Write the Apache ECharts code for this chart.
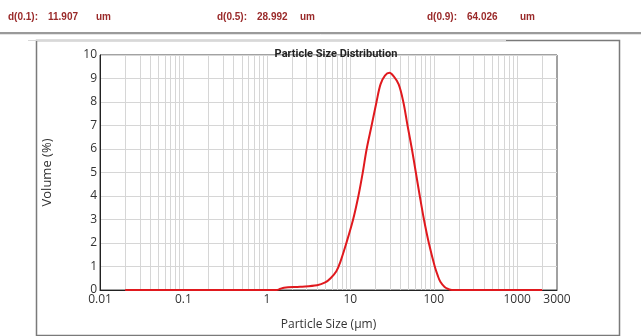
<!DOCTYPE html>
<html>
<head>
<meta charset="utf-8">
<script src="https://cdn.jsdelivr.net/npm/echarts@6/dist/echarts.min.js"></script>
<style>
html,body{margin:0;padding:0;background:#fff;}
#c{width:641px;height:336px;}
</style>
</head>
<body>
<div id="c"></div>
<script>
// Data
var sizes = [0.02, 1.0, 1.3, 1.45, 1.6, 2.5, 4.0, 5.0, 5.8, 6.8, 7.6, 8.97, 10.8, 12.5, 14.1, 15.7, 18.0, 20.6, 23.0, 26, 29.5, 33, 38, 43.2, 48.5, 54.7, 61, 68, 76.3, 87.3, 102.8, 112, 120, 135, 150, 165, 500, 2000];
var volumes = [0, 0, 0, 0.05, 0.1, 0.14, 0.2, 0.32, 0.5, 0.8, 1.2, 2.0, 3.0, 4.0, 5.0, 6.0, 7.0, 8.0, 8.75, 9.12, 9.24, 9.1, 8.75, 8.0, 7.0, 6.0, 5.0, 4.0, 3.0, 2.0, 1.0, 0.6, 0.35, 0.13, 0.04, 0, 0, 0];
var xTickLabels = [0.01, 0.1, 1, 10, 100, 1000, 3000];
var gridX = [0.02,0.03,0.04,0.05,0.06,0.07,0.08,0.09,0.1,0.2,0.3,0.4,0.5,0.6,0.7,0.8,0.9,1,2,3,4,5,6,7,8,9,10,20,30,40,50,60,70,80,90,100,200,300,400,500,600,700,800,900,1000,2000];
var headerLabels = ["d(0.1):", "d(0.5):", "d(0.9):"];
var headerValues = ["11.907", "28.992", "64.026"];
var headerUnit = "um";

var chart = echarts.init(document.getElementById('c'));
var hdrFont = '"Liberation Sans Narrow", "Liberation Sans", Arial, sans-serif';
var hdrColor = '#9a2a2a';
var hdrX = [[8, 48, 96], [217, 257, 300], [427, 467, 520]];
var graphics = [
  {type:'rect', shape:{x:0,y:32,width:641,height:2}, style:{fill:'#9a9a9a'}, silent:true},
  {type:'line', shape:{x1:0,y1:34.5,x2:641,y2:34.5}, style:{stroke:'#e4e4e4',lineWidth:1}, silent:true},
  {type:'line', shape:{x1:28,y1:40.5,x2:506,y2:40.5}, style:{stroke:'#d8d8d8',lineWidth:1}, silent:true},
  {type:'rect', shape:{x:36.5,y:40.5,width:583,height:295}, style:{fill:'none',stroke:'#7a7a7a',lineWidth:1.5}, silent:true, z:-1}
];
for (var i = 0; i < 3; i++) {
  graphics.push({type:'text', left:hdrX[i][0], top:12, style:{text:headerLabels[i], font:'bold 10px ' + hdrFont, fill:hdrColor}});
  graphics.push({type:'text', left:hdrX[i][1], top:12, style:{text:headerValues[i], font:'bold 10px ' + hdrFont, fill:hdrColor}});
  graphics.push({type:'text', left:hdrX[i][2], top:12, style:{text:headerUnit, font:'bold 10px ' + hdrFont, fill:hdrColor}});
}

var option = {
  animation:false,
  title:{text:'Particle Size Distribution', left:331, top:44, textAlign:'center',
    textStyle:{fontSize:11, fontWeight:'bold', color:'#222', fontFamily:'Roboto, sans-serif'}},
  graphic:graphics,
  grid:{left:100, right:84, top:55, bottom:44, show:true, borderColor:'#444', borderWidth:1, backgroundColor:'transparent'},
  xAxis:{
    type:'log', logBase:10, min:0.01, max:3000,
    name:'Particle Size (μm)', nameLocation:'middle', nameGap:29,
    nameTextStyle:{fontSize:12, color:'#333', fontFamily:'"Open Sans", sans-serif'},
    axisLine:{show:true, lineStyle:{color:'#222', width:1}},
    axisTick:{show:false},
    splitLine:{show:false},
    axisLabel:{customValues:xTickLabels, margin:4, fontSize:12, color:'#333', fontFamily:'"Open Sans", sans-serif',
      formatter:function(v){ return String(+v.toPrecision(6)); }}
  },
  yAxis:{
    type:'value', min:0, max:10, interval:1,
    name:'Volume (%)', nameLocation:'middle', nameGap:46,
    nameTextStyle:{fontSize:13, color:'#333', fontFamily:'"Open Sans", sans-serif'},
    axisLine:{show:true, lineStyle:{color:'#222', width:1}},
    axisTick:{show:false},
    splitLine:{show:true, lineStyle:{color:'#d6d6d6', width:1}},
    axisLabel:{margin:3, fontSize:12, color:'#333', fontFamily:'"Open Sans", sans-serif'}
  },
  series:[{
    type:'line',
    data:sizes.map(function(s,i){return [s, volumes[i]];}),
    showSymbol:false, smooth:0.35,
    lineStyle:{color:'#e0191e', width:2},
    z:5,
    markLine:{
      silent:true, symbol:['none','none'], label:{show:false},
      lineStyle:{color:'#d6d6d6', width:1, type:'solid'},
      emphasis:{disabled:true},
      data:gridX.map(function(v){return {xAxis:v};}),
      z:1
    }
  }]
};
chart.setOption(option);
</script>
</body>
</html>
